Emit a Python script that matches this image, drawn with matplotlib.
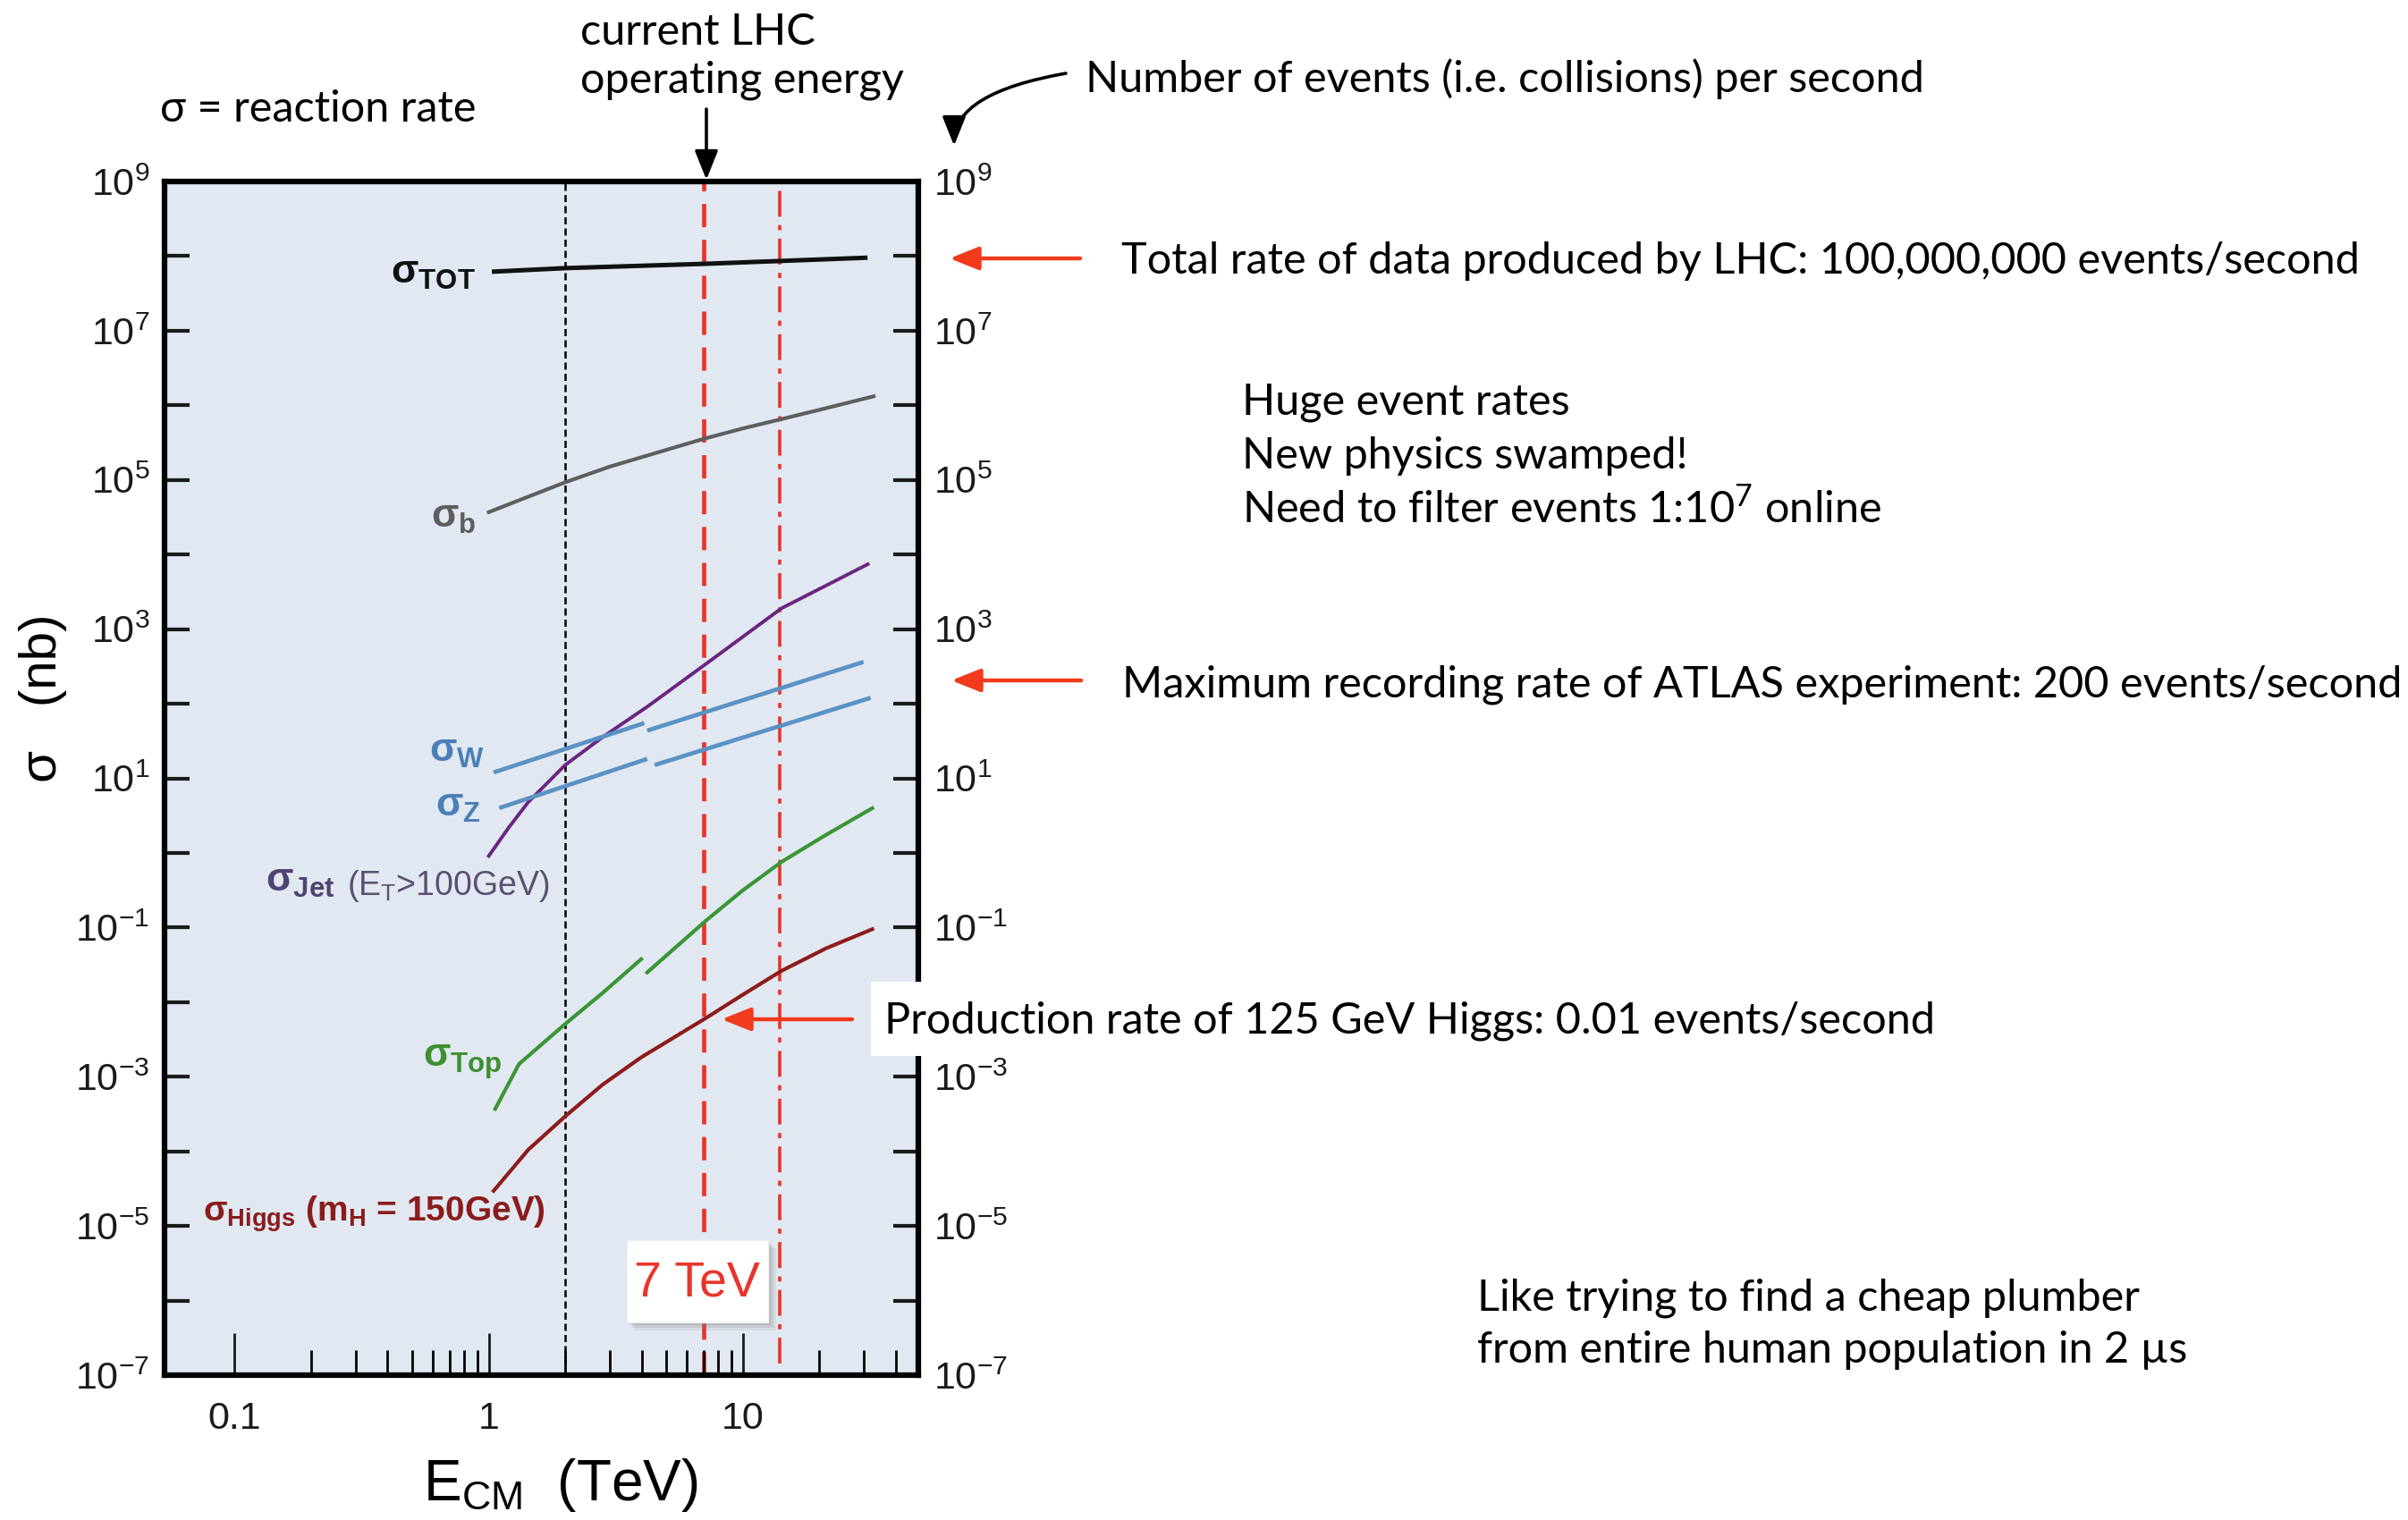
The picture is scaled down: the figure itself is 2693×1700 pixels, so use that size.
import numpy as np
import matplotlib
matplotlib.use('Agg')
import matplotlib.pyplot as plt
from matplotlib.ticker import FixedLocator, FuncFormatter, NullFormatter, NullLocator
from matplotlib.patches import FancyArrowPatch, Rectangle

W, H = 2693, 1700
NARROW = ['Liberation Sans Narrow', 'Liberation Sans', 'DejaVu Sans']
ARIAL = ['Liberation Sans', 'DejaVu Sans']
SLIDE = ['Lato', 'DejaVu Sans']

plt.rcParams['mathtext.fontset'] = 'custom'
plt.rcParams['mathtext.rm'] = 'Liberation Sans'

# ---- cross sections (E in TeV, sigma in nb)
e_tot = [1.05, 2.0, 7.2, 30.3]
s_tot = [6.2e7, 6.9e7, 7.9e7, 9.5e7]
e_b = [1.0, 2.0, 3.0, 7.0, 10.0, 14.0, 20.0, 32.7]
s_b = [3.7e4, 9.3e4, 1.51e5, 3.55e5, 4.9e5, 6.46e5, 8.7e5, 1.32e6]
e_jet = [1.0, 1.2, 1.43, 2.0, 2.8, 4.2, 7.2, 14.2, 31.0]
s_jet = [0.91, 2.2, 4.8, 15.1, 35.5, 91, 347, 1905, 7410]
e_w1, s_w1 = [1.045, 4.09], [12.0, 55.0]
e_w2, s_w2 = [4.2, 29.8], [43.6, 363]
e_z1, s_z1 = [1.10, 4.2], [4.0, 18.2]
e_z2, s_z2 = [4.5, 31.8], [15.1, 120]
e_top1 = [1.06, 1.315, 2.0, 2.8, 3.98]
s_top1 = [3.7e-4, 1.48e-3, 5.1e-3, 1.32e-2, 3.77e-2]
e_top2 = [4.2, 7.2, 10.0, 14.2, 21.2, 32.3]
s_top2 = [2.5e-2, 0.126, 0.316, 0.76, 1.74, 3.98]
e_higgs = [1.045, 1.43, 2.0, 2.8, 3.98, 7.2, 10.0, 14.2, 21.2, 32.3]
s_higgs = [2.95e-5, 1.05e-4, 2.95e-4, 7.8e-4, 1.82e-3, 6.2e-3, 1.26e-2, 2.63e-2, 5.25e-2, 9.5e-2]

tevatron = 2.0
lhc_now = 7.0
lhc_design = 14.0

x_major = [0.1, 1, 10]
x_major_labels = ['0.1', '1', '10']
x_minor = [0.2, 0.3, 0.4, 0.5, 0.6, 0.7, 0.8, 0.9,
           2, 3, 4, 5, 6, 7, 8, 9, 20, 30, 40]
y_exps = list(range(-7, 10))


def P(x, y):
    # pixel position (from top-left) -> figure fraction
    return (x / W, 1 - y / H)


fig = plt.figure(figsize=(W / 100, H / 100), dpi=100)
fig.patch.set_facecolor('white')
ax = fig.add_axes([184 / W, 1 - 1538 / H, (1027 - 184) / W, (1538 - 203) / H])
ax.set_facecolor('#e1e8f1')
ax.set_xscale('log')
ax.set_yscale('log')
ax.set_xlim(0.053, 49)
ax.set_ylim(1e-7, 1e9)

# vertical energy markers
ax.axvline(tevatron, color='black', lw=1.8, dashes=(3.2, 1.8), zorder=1)
ax.axvline(lhc_now, color='#e8352b', lw=3.4, dashes=(5.5, 3.0), zorder=1)
ax.axvline(lhc_design, color='#e8352b', lw=2.6, ymin=0.01,
           dashes=(8.0, 2.6, 1.6, 2.6), zorder=1)

ax.plot(e_tot, s_tot, color='#111111', lw=3.6, zorder=2)
ax.plot(e_b, s_b, color='#5e5e5e', lw=3.0, zorder=2)
ax.plot(e_jet, s_jet, color='#6b2580', lw=2.8, zorder=2)
for e, s in [(e_w1, s_w1), (e_w2, s_w2), (e_z1, s_z1), (e_z2, s_z2)]:
    ax.plot(e, s, color='#5a92c4', lw=3.4, solid_capstyle='butt', zorder=2)
ax.plot(e_top1, s_top1, color='#3a9535', lw=3.0, zorder=2)
ax.plot(e_top2, s_top2, color='#3a9535', lw=3.0, zorder=2)
ax.plot(e_higgs, s_higgs, color='#8e1b1b', lw=3.0, zorder=2)

# axes, ticks
for sp in ax.spines.values():
    sp.set_linewidth(4.5)
ax.xaxis.set_major_locator(FixedLocator(x_major))
ax.xaxis.set_major_formatter(FuncFormatter(lambda v, p: x_major_labels[p] if p is not None and p < 3 else ''))
ax.xaxis.set_minor_locator(FixedLocator(x_minor))
ax.xaxis.set_minor_formatter(NullFormatter())
ax.yaxis.set_major_locator(FixedLocator([10.0 ** k for k in y_exps]))
ax.yaxis.set_minor_locator(NullLocator())


def ylab(v, pos):
    k = int(round(np.log10(v)))
    if k % 2 == 0:
        return ''
    return '10$^{\\mathregular{%d}}$' % k


ax.yaxis.set_major_formatter(FuncFormatter(ylab))
ax.tick_params(axis='x', which='major', direction='in', length=34, width=2,
               pad=21, labelsize=31, colors='#1a1a1a', top=False)
ax.tick_params(axis='x', which='minor', direction='in', length=20, width=2, top=False)
ax.tick_params(axis='y', which='major', direction='in', length=20, width=3,
               left=True, right=True, labelleft=True, labelright=True,
               pad=12, labelsize=31, colors='#1a1a1a')
for lab in ax.get_xticklabels() + ax.get_yticklabels():
    lab.set_family(NARROW)

ax.set_xlabel('E$_{\\mathregular{CM}}$  (TeV)', family=NARROW, size=46)
ax.xaxis.label.set_va('baseline')
ax.xaxis.set_label_coords((627 - 184) / 843, (1538 - 1678) / 1335)
ax.set_ylabel('σ   (nb)', family=ARIAL, size=42)
ax.yaxis.label.set_va('center')
ax.yaxis.set_label_coords((48 - 184) / 843, (1538 - 781) / 1335)

# curve labels
lab_kw = dict(family=ARIAL, weight='bold', va='baseline', size=32)
fig.text(*P(532, 317), 'σ$_{\\mathregular{TOT}}$', color='#111111', ha='right', **lab_kw)
fig.text(*P(533, 590), 'σ$_{\\mathregular{b}}$', color='#5e5e5e', ha='right', **lab_kw)
fig.text(*P(542, 852), 'σ$_{\\mathregular{W}}$', color='#4a7fb8', ha='right', **lab_kw)
fig.text(*P(538, 913), 'σ$_{\\mathregular{Z}}$', color='#4a7fb8', ha='right', **lab_kw)
fig.text(*P(375, 997), 'σ$_{\\mathregular{Jet}}$', color='#4f4470', ha='right', **lab_kw)
fig.text(*P(388, 1001), '(E$_{\\mathregular{T}}$>100GeV)', color='#5a5070', ha='left',
         family=ARIAL, va='baseline', size=27)
fig.text(*P(562, 1193), 'σ$_{\\mathregular{Top}}$', color='#3d8f30', ha='right', **lab_kw)
lab_kw['size'] = 28
fig.text(*P(227, 1366), 'σ$_{\\mathregular{Higgs}}$ (m$_{\\mathregular{H}}$ = 150GeV)',
         color='#8a1c1c', ha='left', **lab_kw)

# "7 TeV" box with soft shadow
for off, a in [(9, 0.12), (6, 0.18), (3, 0.25)]:
    fig.add_artist(Rectangle(P(701 + off, 1479 + off), 158 / W, 92 / H,
                             transform=fig.transFigure, color='#808080', alpha=a, lw=0))
fig.add_artist(Rectangle(P(701, 1479), 158 / W, 92 / H, transform=fig.transFigure,
                         facecolor='white', edgecolor='#f0f0f0', lw=1))
fig.text(*P(779, 1436), '7 TeV', color='#e8352b', family=NARROW, size=40,
         ha='center', va='center')

# white strip behind the Higgs note
fig.add_artist(Rectangle(P(974, 1181), 1250 / W, 83 / H, transform=fig.transFigure,
                         facecolor='white', edgecolor='none'))

# slide annotations
t_kw = dict(family=SLIDE, size=35, va='baseline', color='black')
fig.text(*P(179, 136), 'σ = reaction rate', **t_kw)
fig.text(*P(649, 50), 'current LHC', **t_kw)
fig.text(*P(649, 104), 'operating energy', **t_kw)
fig.text(*P(1214, 103), 'Number of events (i.e. collisions) per second', **t_kw)
fig.text(*P(1254, 306), 'Total rate of data produced by LHC: 100,000,000 events/second', **t_kw)
fig.text(*P(1389, 463), 'Huge event rates', **t_kw)
fig.text(*P(1389, 524), 'New physics swamped!', **t_kw)
fig.text(*P(1389, 586), 'Need to filter events 1:10$^{\\mathregular{7}}$ online', **t_kw)
fig.text(*P(1255, 779), 'Maximum recording rate of ATLAS experiment: 200 events/second', **t_kw)
fig.text(*P(989, 1156), 'Production rate of 125 GeV Higgs: 0.01 events/second', **t_kw)
fig.text(*P(1652, 1465), 'Like trying to find a cheap plumber', **t_kw)
fig.text(*P(1652, 1524), 'from entire human population in 2 µs', **t_kw)

# arrows
blk = dict(arrowstyle='-|>,head_length=0.55,head_width=0.22', mutation_scale=36,
           color='black', lw=2.6, shrinkA=0, shrinkB=0, transform=fig.transFigure)
fig.add_artist(FancyArrowPatch(P(790, 122), P(790, 201), **blk))
fig.add_artist(FancyArrowPatch(P(1192, 82), P(1067, 163),
                               connectionstyle='angle3,angleA=10,angleB=90', **blk))
red = dict(blk, color='#f23a1c', lw=3.2)
fig.add_artist(FancyArrowPatch(P(1208, 289), P(1062, 289), **red))
fig.add_artist(FancyArrowPatch(P(1209, 761), P(1064, 761), **red))
fig.add_artist(FancyArrowPatch(P(953, 1140), P(807, 1140), **red))

fig.savefig('out.png', dpi=100, facecolor='white')
